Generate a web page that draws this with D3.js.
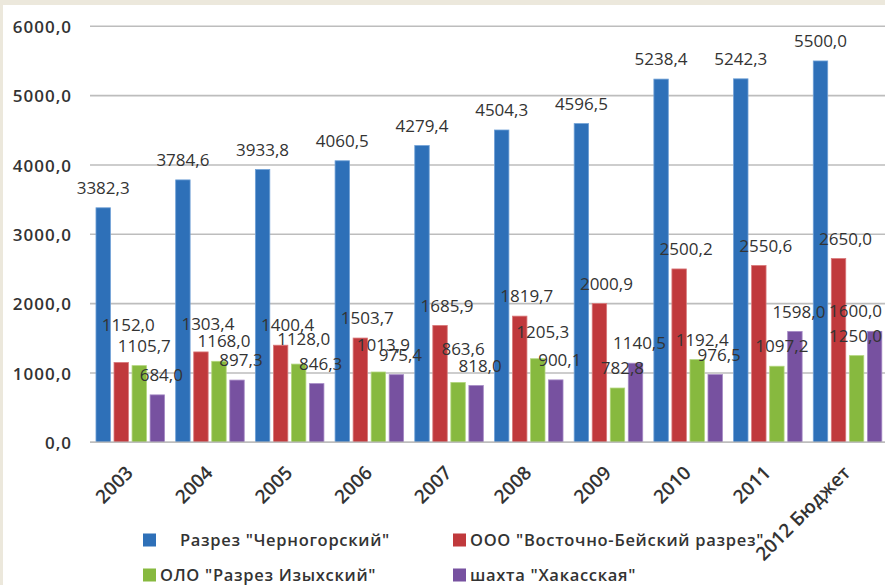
<!DOCTYPE html>
<html lang="ru">
<head>
<meta charset="utf-8">
<script src="https://cdn.jsdelivr.net/npm/d3@7"></script>
<style>
  html, body { margin: 0; padding: 0; background: #ffffff; }
  svg { display: block; }
  text { font-family: "Open Sans", "Noto Sans", sans-serif; fill: #333333; }
</style>
</head>
<body>
<svg id="chart" width="885" height="585"></svg>
<script>
// Добыча угля по предприятиям, тыс. т
const years = ["2003", "2004", "2005", "2006", "2007", "2008", "2009", "2010", "2011", "2012 Бюджет"];
const seriesNames = [
  "    Разрез \"Черногорский\"",
  "ООО \"Восточно-Бейский разрез\"",
  "ОЛО \"Разрез Изыхский\"",
  "шахта \"Хакасская\""
];
const chernogorsky    = [3382.3, 3784.6, 3933.8, 4060.5, 4279.4, 4504.3, 4596.5, 5238.4, 5242.3, 5500.0];
const vostochnoBeysky = [1152.0, 1303.4, 1400.4, 1503.7, 1685.9, 1819.7, 2000.9, 2500.2, 2550.6, 2650.0];
const izykhsky        = [1105.7, 1168.0, 1128.0, 1013.9, 863.6, 1205.3, 782.8, 1192.4, 1097.2, 1250.0];
const khakasskaya     = [684.0, 897.3, 846.3, 975.4, 818.0, 900.1, 1140.5, 976.5, 1598.0, 1600.0];
const yTicks = [0, 1000, 2000, 3000, 4000, 5000, 6000];

const seriesValues = [chernogorsky, vostochnoBeysky, izykhsky, khakasskaya];
const colors = ["#2e70b8", "#c0393c", "#87b93f", "#7751a0"];
const edgeColors = ["#6fa0d6", "#d9797b", "#b2d67c", "#a488c4"];

// hand-placed data labels (offsets from the default spot above each bar)
const labelShiftX = [0, 7, 5, 4];
const labelNudge = {
  "1-0": [0, -18], "1-1": [0, -8],
  "2-2": [0, -5], "2-3": [0, -7], "2-4": [0, -14], "2-5": [0, -7], "2-9": [-6, 0],
  "3-9": [-23, 0]
};

const fmt = v => v.toFixed(1).replace(".", ",");

const svg = d3.select("#chart");
const W = 885, H = 585;

// frame
svg.append("rect").attr("width", W).attr("height", H).attr("fill", "#ece8dc");
svg.append("rect").attr("x", 3).attr("y", 5).attr("width", W - 3).attr("height", H - 5)
  .attr("fill", "#ffffff");

const x0 = d3.scaleBand().domain(years).range([90.4, 887.4])
  .paddingInner(0.14).paddingOuter(0.07);
const x1 = d3.scaleBand().domain(d3.range(seriesValues.length))
  .range([0, x0.bandwidth()]).paddingInner(0.2);
const y = d3.scaleLinear().domain([0, 6000]).range([442.3, 26.3]);

// gridlines + y tick labels
const yAxis = d3.axisLeft(y).tickValues(yTicks).tickSize(0).tickPadding(0).tickFormat(fmt);
const yg = svg.append("g").attr("transform", "translate(72,0)").call(yAxis);
yg.select(".domain").remove();
yg.selectAll("text")
  .attr("x", 0).attr("dy", "0.36em")
  .style("font-size", "17px").style("font-weight", 600).style("letter-spacing", "1px")
  .style("font-family", "\"Open Sans\", sans-serif").attr("fill", "#3a3a3a");

svg.append("g").selectAll("line").data(yTicks).join("line")
  .attr("x1", 90).attr("x2", W)
  .attr("y1", d => y(d)).attr("y2", d => y(d))
  .attr("stroke", "#bdbdbd").attr("stroke-width", 1.6);

// bars
const groups = svg.append("g").selectAll("g").data(years).join("g")
  .attr("transform", d => `translate(${x0(d)},0)`);

groups.selectAll("rect")
  .data((yr, i) => seriesValues.map((vals, s) => ({ s, i, v: vals[i] })))
  .join("rect")
  .attr("x", d => x1(d.s))
  .attr("y", d => y(d.v))
  .attr("width", x1.bandwidth())
  .attr("height", d => y(0) - y(d.v))
  .attr("fill", d => colors[d.s])
  .attr("stroke", d => edgeColors[d.s])
  .attr("stroke-width", 0.8);

// data labels
const labels = [];
years.forEach((yr, i) => {
  seriesValues.forEach((vals, s) => {
    const n = labelNudge[`${s}-${i}`] || [0, 0];
    labels.push({
      v: vals[i],
      x: x0(yr) + x1(s) + x1.bandwidth() / 2 + labelShiftX[s] + n[0],
      y: y(vals[i]) - 20 + n[1]
    });
  });
});
svg.append("g").selectAll("text").data(labels).join("text")
  .attr("x", d => d.x).attr("y", d => d.y)
  .attr("dy", "0.36em")
  .attr("text-anchor", "middle")
  .style("font-size", "17px")
  .text(d => fmt(d.v));

// x axis baseline and rotated category labels
svg.append("line").attr("x1", 90).attr("x2", W)
  .attr("y1", y(0)).attr("y2", y(0))
  .attr("stroke", "#bdbdbd").attr("stroke-width", 1.6);

svg.append("g").selectAll("text").data(years).join("text")
  .attr("transform", d => `translate(${x0(d) + x0.bandwidth() / 2 + 4},474) rotate(-45)`)
  .attr("text-anchor", "end")
  .style("font-size", "19px").style("font-weight", 600)
  .text(d => d);

// legend
const legendPos = [[143, 540], [453, 540], [143, 575], [453, 575]];
const legend = svg.append("g").selectAll("g").data(seriesNames).join("g")
  .attr("transform", (d, i) => `translate(${legendPos[i][0]},${legendPos[i][1]})`);
legend.append("rect").attr("x", 0).attr("y", -6.5).attr("width", 13).attr("height", 13)
  .attr("fill", (d, i) => colors[i]);
legend.append("text").attr("x", 17).attr("dy", "0.36em")
  .style("font-size", "16.5px").style("font-weight", 600).style("white-space", "pre")
  .style("letter-spacing", "0.7px")
  .text(d => d);
</script>
</body>
</html>
